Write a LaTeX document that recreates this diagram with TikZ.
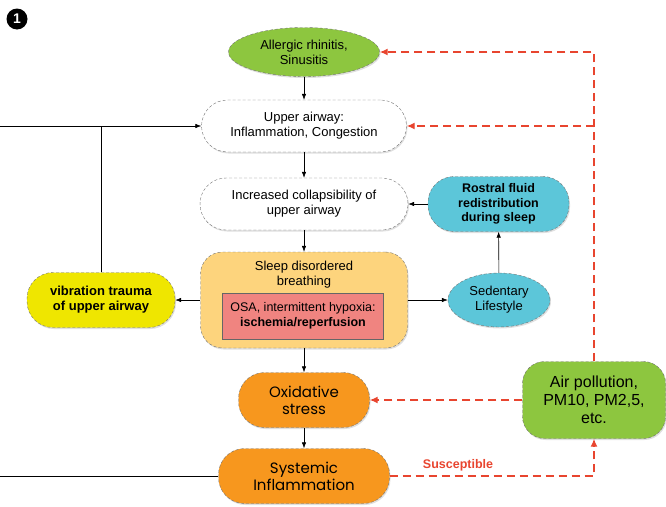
\documentclass[tikz,border=0pt]{standalone}
\usepackage{fontspec}
\setmainfont{Liberation Sans}
\newfontfamily\gothicfont{Poppins}
\usetikzlibrary{arrows,arrows.meta}
\usetikzlibrary{shapes,shadows}
\definecolor{leafgreen}{HTML}{8DC63F}
\definecolor{skyblue}{HTML}{5CC6D9}
\definecolor{paleorange}{HTML}{FDD47D}
\definecolor{salmon}{HTML}{F08480}
\definecolor{lemon}{HTML}{EFE600}
\definecolor{deeporange}{HTML}{F7971E}
\definecolor{alertred}{HTML}{E8452F}
\tikzstyle{ndbox} = [draw=black!55, densely dashed, thin, align=center, inner sep=0pt, font=\fontsize{13}{15}\selectfont, drop shadow={opacity=0.25,shadow xshift=1pt,shadow yshift=-1.5pt}]
\tikzstyle{ndpill} = [ndbox, shape=rectangle, rounded corners=26pt]
\tikzstyle{ndoval} = [ndbox, shape=ellipse]
\tikzstyle{tuh} = [style={->,>={Latex[length=6pt,width=4.5pt]},style=semithick}]
\tikzstyle{smog} = [style={->,>={Latex[length=8pt,width=7pt]},draw=alertred,line width=1.4pt,dash pattern=on 8pt off 5pt}]

\begin{document}
\begin{tikzpicture}[x=1pt,y=-1pt]
        \useasboundingbox (0,0) rectangle (666,506);
        \node[circle, fill=black, minimum size=21pt, inner sep=0pt, text=white, font=\bfseries\fontsize{14}{14}\selectfont] (num) at (17,19) {1};
        \node[ndoval, fill=leafgreen, minimum width=151, minimum height=49] (allergic) at (304,52) {Allergic rhinitis,\\Sinusitis};
        \node[ndpill, fill=white, minimum width=205, minimum height=52] (upper) at (304,126) {Upper airway:\\Inflammation, Congestion};
        \node[ndpill, fill=white, minimum width=208, minimum height=52] (collapse) at (304,204) {Increased collapsibility of\\upper airway};
        \node[ndpill, fill=skyblue, minimum width=141, minimum height=55, font=\bfseries\fontsize{12.5}{14.5}\selectfont] (rostral) at (498.5,204) {Rostral fluid\\redistribution\\during sleep};
        \node[ndbox, rounded corners=22pt, fill=paleorange, minimum width=207, minimum height=96] (sleep) at (304,300) {};
        \node[align=center, font=\fontsize{13}{15}\selectfont] (sleeplbl) at (304,275) {Sleep disordered\\breathing};
        \node[draw=black!60, fill=salmon, minimum width=161, minimum height=46, align=center, inner sep=0pt, font=\fontsize{12.5}{14.5}\selectfont] (osa) at (303,316) {OSA, intermittent hypoxia:\\\textbf{ischemia/reperfusion}};
        \node[ndpill, fill=lemon, minimum width=148, minimum height=55, font=\bfseries\fontsize{13}{15}\selectfont] (vibration) at (101,300) {vibration trauma\\of upper airway};
        \node[ndoval, fill=skyblue, minimum width=102, minimum height=54] (sedentary) at (499,300) {Sedentary\\Lifestyle};
        \node[ndpill, fill=deeporange, minimum width=131, minimum height=55, font=\gothicfont\fontsize{15}{17}\selectfont] (oxidative) at (304,400) {Oxidative\\stress};
        \node[ndpill, fill=deeporange, minimum width=171, minimum height=55, font=\gothicfont\fontsize{15}{17}\selectfont] (systemic) at (304,476) {Systemic\\Inflammation};
        \node[ndpill, fill=leafgreen, rounded corners=22pt, minimum width=143, minimum height=77, font=\fontsize{16}{18}\selectfont] (air) at (594,400) {Air pollution,\\PM10, PM2,5,\\etc.};
        \node[text=alertred, font=\bfseries\fontsize{12.5}{14}\selectfont] (susceptible) at (458,465) {Susceptible};
        \coordinate (westtop) at (0,126);
        \coordinate (westbot) at (0,476);
        \coordinate (vibjoin) at (101,126);
        \coordinate (smogtop) at (594,52);
        \coordinate (smogmid) at (594,126);
        \coordinate (smogbot) at (594,476);
        % main chain
        \draw[tuh] (allergic) -- (upper);
        \draw[tuh] (upper) -- (collapse);
        \draw[tuh] (collapse) -- (sleep);
        \draw[tuh] (sleep) -- (oxidative);
        \draw[tuh] (oxidative) -- (systemic);
        \draw[tuh] (rostral) -- (collapse);
        \draw[tuh] (sedentary) -- (rostral);
        \draw[tuh] (sleep) -- (sedentary);
        \draw[tuh] (sleep) -- (vibration);
        \draw[tuh] (westtop) -- (upper);
        \draw[semithick] (vibration) -- (vibjoin);
        \draw[semithick] (westbot) -- (systemic);
        % pollution links
        \draw[smog] (air) -- (smogtop) -- (allergic);
        \draw[smog] (smogmid) -- (upper);
        \draw[smog] (air) -- (oxidative);
        \draw[smog] (systemic) -- (smogbot) -- (air);
      \end{tikzpicture}
\end{document}
